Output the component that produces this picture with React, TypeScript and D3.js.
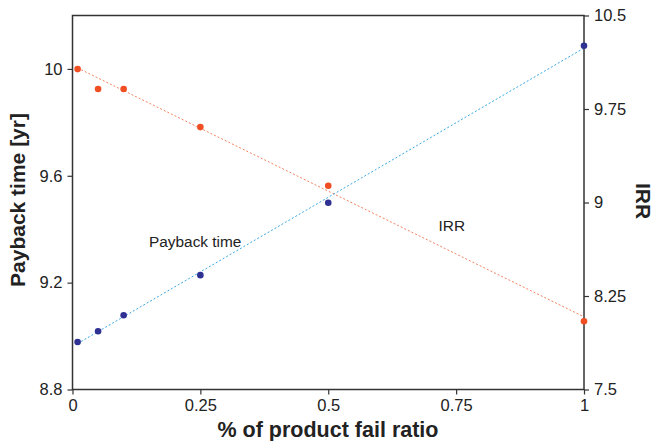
import React, { useEffect, useRef } from "react";
import * as d3 from "d3";

const failRatio = [0.01, 0.05, 0.1, 0.25, 0.5, 1];
const paybackTime = [8.978, 9.018, 9.078, 9.228, 9.499, 10.087];
const irr = [10.07, 9.91, 9.91, 9.605, 9.134, 8.048];

// trend line end points
const trendX = [0.01, 1];
const paybackTrend = [8.972, 10.078];
const irrTrend = [10.079, 8.083];

const xTicks = [0, 0.25, 0.5, 0.75, 1];
const leftTicks = [8.8, 9.2, 9.6, 10];
const rightTicks = [7.5, 8.25, 9, 9.75, 10.5];

const width = 656;
const height = 441;
const margin = { top: 15.5, right: 72, bottom: 51.5, left: 72.5 };

const App = () => {
  const svgRef = useRef<SVGSVGElement>(null);

  useEffect(() => {
    const svg = d3.select(svgRef.current);
    svg.selectAll("*").remove();

    const x = d3.scaleLinear().domain([0, 1]).range([margin.left, width - margin.right]);
    const yL = d3.scaleLinear().domain([8.8, 10.2]).range([height - margin.bottom, margin.top]);
    const yR = d3.scaleLinear().domain([7.5, 10.5]).range([height - margin.bottom, margin.top]);

    const axisColor = "#333";
    const font = "Liberation Sans, Arial, sans-serif";

    // frame
    svg.append("rect")
      .attr("x", margin.left)
      .attr("y", margin.top)
      .attr("width", width - margin.left - margin.right)
      .attr("height", height - margin.top - margin.bottom)
      .attr("fill", "none")
      .attr("stroke", axisColor)
      .attr("stroke-width", 1.5);

    const styleAxis = (g) => {
      g.select(".domain").remove();
      g.selectAll("line").attr("stroke", axisColor).attr("stroke-width", 1.2);
      g.selectAll("text").attr("fill", "#222").style("font-family", font).style("font-size", "16.5px");
    };

    svg.append("g")
      .attr("transform", `translate(0,${height - margin.bottom})`)
      .call(d3.axisBottom(x).tickValues(xTicks).tickFormat(d => String(d)).tickSize(5).tickPadding(5))
      .call(styleAxis);

    svg.append("g")
      .attr("transform", `translate(${margin.left},0)`)
      .call(d3.axisLeft(yL).tickValues(leftTicks).tickFormat(d => String(d)).tickSize(5).tickPadding(5))
      .call(styleAxis);

    svg.append("g")
      .attr("transform", `translate(${width - margin.right},0)`)
      .call(d3.axisRight(yR).tickValues(rightTicks).tickFormat(d => String(d)).tickSize(5).tickPadding(5))
      .call(styleAxis);

    // trend lines
    const paybackLine = d3.line<number>().x((d, i) => x(trendX[i])).y(d => yL(d));
    const irrLine = d3.line<number>().x((d, i) => x(trendX[i])).y(d => yR(d));

    svg.append("path")
      .attr("d", irrLine(irrTrend))
      .attr("fill", "none")
      .attr("stroke", "#f5825f")
      .attr("stroke-width", 1)
      .attr("stroke-dasharray", "2,2");

    svg.append("path")
      .attr("d", paybackLine(paybackTrend))
      .attr("fill", "none")
      .attr("stroke", "#3aaae6")
      .attr("stroke-width", 1)
      .attr("stroke-dasharray", "2,2");

    // points
    svg.append("g").selectAll("circle")
      .data(irr)
      .join("circle")
      .attr("cx", (d, i) => x(failRatio[i]))
      .attr("cy", d => yR(d))
      .attr("r", 3.3)
      .attr("fill", "#f04e23");

    svg.append("g").selectAll("circle")
      .data(paybackTime)
      .join("circle")
      .attr("cx", (d, i) => x(failRatio[i]))
      .attr("cy", d => yL(d))
      .attr("r", 3.3)
      .attr("fill", "#2e3192");

    // series labels
    svg.append("text")
      .attr("x", 149).attr("y", 246.5)
      .style("font-family", font).style("font-size", "15.4px")
      .attr("fill", "#222")
      .text("Payback time");

    svg.append("text")
      .attr("x", 438.5).attr("y", 230.5)
      .style("font-family", font).style("font-size", "15.4px")
      .attr("fill", "#222")
      .text("IRR");

    // axis titles
    svg.append("text")
      .attr("transform", `translate(25,200) rotate(-90)`)
      .attr("text-anchor", "middle")
      .style("font-family", font).style("font-size", "21px").style("font-weight", "bold")
      .attr("fill", "#222")
      .text("Payback time [yr]");

    svg.append("text")
      .attr("transform", `translate(636,201) rotate(90)`)
      .attr("text-anchor", "middle")
      .style("font-family", font).style("font-size", "21px").style("font-weight", "bold")
      .attr("fill", "#222")
      .text("IRR");

    svg.append("text")
      .attr("x", 328).attr("y", 437)
      .attr("text-anchor", "middle")
      .style("font-family", font).style("font-size", "21.5px").style("font-weight", "bold")
      .attr("fill", "#222")
      .text("% of product fail ratio");
  }, []);

  return (
    <svg ref={svgRef} width={width} height={height}
      style={{ position: "absolute", left: 0, top: 0, background: "#fff" }}>
    </svg>
  );
};

export default App;
